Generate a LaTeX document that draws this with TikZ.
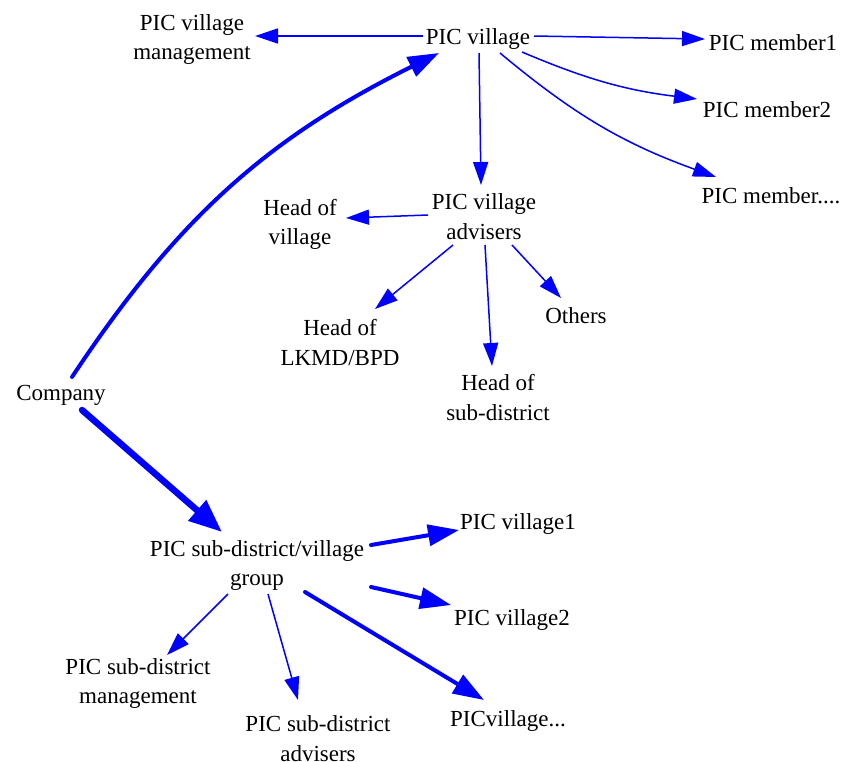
\documentclass[tikz,border=0pt]{standalone}
\usepackage{fontspec}
\setmainfont{Liberation Serif}
\usetikzlibrary{arrows.meta,calc}
\begin{document}
\begin{tikzpicture}[x=1pt,y=-1pt,
  lbl/.style={inner sep=0pt,align=center,yshift=-2.5pt,font=\fontsize{23}{29.5}\selectfont},
  thin/.style={draw=blue,line width=1.5pt,-{Triangle[length=23pt,width=15pt]}},
  mid/.style={draw=blue,line width=4pt,line cap=round,-{Triangle[length=31pt,width=21pt]}},
  bold/.style={draw=blue,line width=6.5pt,line cap=round,-{Triangle[length=33pt,width=26pt]}}]
\useasboundingbox (0,0) rectangle (845,761);

% village level
\node[lbl] (pv)   at (478,36)  {PIC village};
\node[lbl] (pvm)  at (192,37)  {PIC village\\management};
\node[lbl] (pm1)  at (773,40)  {PIC member1};
\node[lbl] (pm2)  at (767,107) {PIC member2};
\node[lbl] (pme)  at (771,193) {PIC member....};
\node[lbl] (pva)  at (484,214) {PIC village\\advisers};
\node[lbl] (hov)  at (300,222) {Head of\\village};
\node[lbl] (lkmd) at (340,340) {Head of\\LKMD/BPD};
\node[lbl] (oth)  at (576,313) {Others};
\node[lbl] (hsd)  at (498,395) {Head of\\sub-district};

% company
\node[lbl] (co)   at (61,393)  {Company};

% sub-district level
\node[lbl] (grp)  at (257,563) {PIC sub-district/village\\group};
\node[lbl] (pv1)  at (518,521) {PIC village1};
\node[lbl] (pv2)  at (512,617) {PIC village2};
\node[lbl] (pve)  at (508,718) {PICvillage...};
\node[lbl] (psm)  at (138,681) {PIC sub-district\\management};
\node[lbl] (psa)  at (318,736) {PIC sub-district\\advisers};

% connectors from PIC village
\draw[thin] ([shift={(-55,-2.5)}]pv.center) -- ([shift={(63,-3.5)}]pvm.center);
\draw[thin] ([shift={(56,-2.5)}]pv.center) -- ([shift={(-68,-3.5)}]pm1.center);
\draw[thin] ([shift={(44,13.5)}]pv.center) to[bend right=8] ([shift={(-70,-10.5)}]pm2.center);
\draw[thin] ([shift={(22,14.5)}]pv.center) to[bend right=10] ([shift={(-55,-18.5)}]pme.center);
\draw[thin] ([shift={(1,14.5)}]pv.center) -- ([shift={(-3,-31.5)}]pva.center);

% connectors from the advisers
\draw[thin] ([shift={(-56,-1.5)}]pva.center) -- ([shift={(46,-6.5)}]hov.center);
\draw[thin] ([shift={(-31,28.5)}]pva.center) -- ([shift={(35,-33.5)}]lkmd.center);
\draw[thin] ([shift={(1,28.5)}]pva.center) -- ([shift={(-6,-31.5)}]hsd.center);
\draw[thin] ([shift={(28,28.5)}]pva.center) -- ([shift={(-15,-17.5)}]oth.center);

% company links
\draw[mid] ([shift={(11,-18.5)}]co.center) to[bend left=15] ([shift={(-39,14.5)}]pv.center);
\draw[bold] ([shift={(21,14.5)}]co.center) -- ([shift={(-35,-33.5)}]grp.center);

% connectors from the sub-district group
\draw[mid] ([shift={(114,-20.5)}]grp.center) -- ([shift={(-59,6.5)}]pv1.center);
\draw[mid] ([shift={(114,21.5)}]grp.center) -- ([shift={(-61,-14.5)}]pv2.center);
\draw[mid] ([shift={(48,26.5)}]grp.center) -- ([shift={(-24,-20.5)}]pve.center);
\draw[thin] ([shift={(-29,28.5)}]grp.center) -- ([shift={(29,-28.5)}]psm.center);
\draw[thin] ([shift={(11,28.5)}]grp.center) -- ([shift={(-20,-38.5)}]psa.center);
\end{tikzpicture}
\end{document}
